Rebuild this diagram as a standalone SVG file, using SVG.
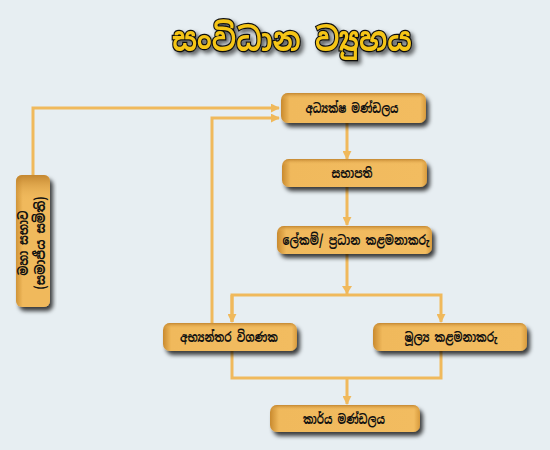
<svg xmlns="http://www.w3.org/2000/svg" width="550" height="450" viewBox="0 0 550 450">
<defs>
<linearGradient id="gx" x1="0" y1="0" x2="1" y2="0">
<stop offset="0" stop-color="#c98a2e"/>
<stop offset="0.06" stop-color="#f0b95c"/>
<stop offset="0.96" stop-color="#f2bc60"/>
<stop offset="1" stop-color="#d79a3c"/>
</linearGradient>
<linearGradient id="gy" x1="0" y1="0" x2="0" y2="1">
<stop offset="0" stop-color="#b87a26" stop-opacity="0.8"/>
<stop offset="0.2" stop-color="#f0b95c" stop-opacity="0"/>
<stop offset="1" stop-color="#f0b95c" stop-opacity="0"/>
</linearGradient>
<linearGradient id="gv" x1="0" y1="0" x2="1" y2="0">
<stop offset="0" stop-color="#d09438"/>
<stop offset="0.2" stop-color="#f0b95c"/>
<stop offset="1" stop-color="#f0b95c"/>
</linearGradient>
<filter id="sh" x="-20%" y="-30%" width="140%" height="170%">
<feDropShadow dx="3" dy="4" stdDeviation="2" flood-color="#000" flood-opacity="0.75"/>
</filter>
<filter id="tsh" x="-10%" y="-30%" width="130%" height="170%">
<feDropShadow dx="3" dy="3" stdDeviation="2" flood-color="#000" flood-opacity="0.6"/>
</filter>
<marker id="ah" viewBox="0 0 10 10" refX="9" refY="5" markerWidth="9" markerHeight="9" markerUnits="userSpaceOnUse" orient="auto">
<path d="M0,0 L10,5 L0,10 Z" fill="#f0b95c"/>
</marker>
<style>
.box{fill:url(#gx);filter:url(#sh)}
.bev{fill:url(#gy)}
.lbl{font-family:"Noto Sans Sinhala","Noto Sans","DejaVu Sans",sans-serif;font-weight:bold;font-size:13.5px;fill:#111;text-anchor:middle;dominant-baseline:central}
.ln{fill:none;stroke:#f0b95c;stroke-width:3}
.title{font-family:"Noto Sans Sinhala","Noto Sans","DejaVu Sans",sans-serif;font-weight:bold;font-size:32px;fill:#f5c518;stroke:#111;stroke-width:2.5;paint-order:stroke;text-anchor:middle;filter:url(#tsh)}
</style>
</defs>
<rect width="550" height="450" fill="#e7eef2"/>
<text id="title" class="title" x="292" y="51" textLength="240" lengthAdjust="spacingAndGlyphs">සංවිධාන ව්‍යුහය</text>
<g id="connectors">
<path class="ln" d="M33,175 V108 H279" marker-end="url(#ah)"/>
<path class="ln" d="M212,323 V118 H279" marker-end="url(#ah)"/>
<path class="ln" d="M347,123 V159" marker-end="url(#ah)"/>
<path class="ln" d="M347,187 V225" marker-end="url(#ah)"/>
<path class="ln" d="M347,254 V294"/>
<path class="ln" d="M232,322 V295 H441 V322" marker-end="url(#ah)"/>
<path class="ln" d="M232,295 V322" marker-end="url(#ah)"/>
<path class="ln" d="M232,351 V378 H441 V351"/>
<path class="ln" d="M347,378 V404" marker-end="url(#ah)"/>
<path d="M342,286 L347,294 L352,286 Z" fill="#f0b95c"/>
</g>
<g id="n-adhyaksha">
<rect class="box" x="281" y="93" width="145" height="30" rx="7"/>
<rect class="bev" x="281" y="93" width="145" height="30" rx="7"/>
<text class="lbl" x="352" y="108" textLength="93" lengthAdjust="spacingAndGlyphs">අධ්‍යක්ෂ මණ්ඩලය</text>
</g>
<g id="n-sabhapathi">
<rect class="box" x="282" y="159" width="145" height="28" rx="7"/>
<rect class="bev" x="282" y="159" width="145" height="28" rx="7"/>
<text class="lbl" x="352" y="173" textLength="41" lengthAdjust="spacingAndGlyphs">සභාපති</text>
</g>
<g id="n-lekam">
<rect class="box" x="277" y="226" width="155" height="28" rx="7"/>
<rect class="bev" x="277" y="226" width="155" height="28" rx="7"/>
<text class="lbl" x="356" y="240" textLength="147" lengthAdjust="spacingAndGlyphs">ලේකම්/ ප්‍රධාන කළමනාකරු</text>
</g>
<g id="n-abhyanthara">
<rect class="box" x="163" y="323" width="134" height="28" rx="7"/>
<rect class="bev" x="163" y="323" width="134" height="28" rx="7"/>
<text class="lbl" x="229" y="337" textLength="98" lengthAdjust="spacingAndGlyphs">අභ්‍යන්තර විගණක</text>
</g>
<g id="n-mulya">
<rect class="box" x="373" y="323" width="154" height="28" rx="7"/>
<rect class="bev" x="373" y="323" width="154" height="28" rx="7"/>
<text class="lbl" x="451" y="337" textLength="93" lengthAdjust="spacingAndGlyphs">මූල්‍ය කළමනාකරු</text>
</g>
<g id="n-karya">
<rect class="box" x="270" y="405" width="150" height="27" rx="7"/>
<rect class="bev" x="270" y="405" width="150" height="27" rx="7"/>
<text class="lbl" x="344" y="418.5" textLength="82" lengthAdjust="spacingAndGlyphs">කාර්ය මණ්ඩලය</text>
</g>
<g id="n-mahasabha">
<rect x="16" y="175" width="34" height="132" rx="6" fill="url(#gv)" filter="url(#sh)"/>
<rect class="bev" x="16" y="175" width="34" height="132" rx="6"/>
<text class="lbl" transform="translate(31.5,243) rotate(-90)" x="0" y="-8.5" textLength="65" lengthAdjust="spacingAndGlyphs">මහා සභාව</text>
<text class="lbl" transform="translate(31.5,243) rotate(-90)" x="0" y="8.5" textLength="93" lengthAdjust="spacingAndGlyphs">(සමාජීය සමිති)</text>
</g>
</svg>
